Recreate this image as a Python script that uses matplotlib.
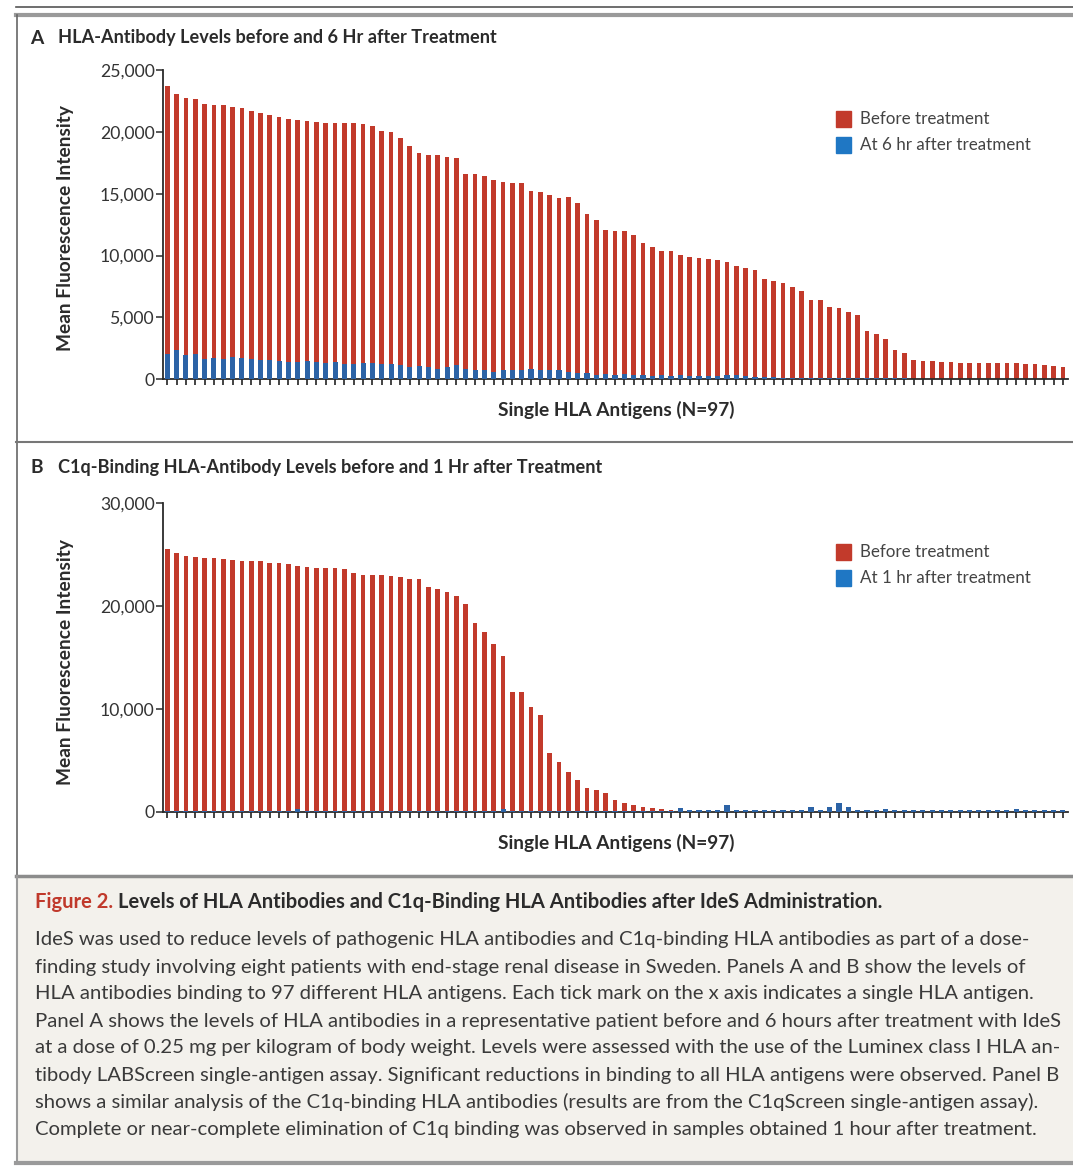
import numpy as np
import matplotlib
matplotlib.use("Agg")
import matplotlib.pyplot as plt
from matplotlib.patches import Rectangle
from matplotlib.lines import Line2D
from matplotlib.ticker import FuncFormatter

plt.rcParams["font.family"] = ["Lato", "DejaVu Sans"]

RED = "#C23A2B"
BLUE = "#2C63A6"
DARK = "#2b2b2b"

# ── data: panel A (MFI, 97 antigens, sorted by pre-treatment level) ──
a_before = [23700, 23060, 22760, 22680, 22270, 22190, 22190, 22030, 21890, 21680,
            21490, 21350, 21170, 21000, 20980, 20870, 20810, 20680, 20680, 20680,
            20680, 20620, 20490, 20030, 19980, 19540, 18840, 18300, 18160, 18110,
            17950, 17890, 16600, 16570, 16430, 16080, 15920, 15890, 15890, 15240,
            15130, 14900, 14690, 14700, 14280, 13390, 12870, 12060, 11970, 11950,
            11630, 11020, 10710, 10350, 10350, 10040, 9850, 9830, 9740, 9630,
            9470, 9120, 9000, 8850, 8110, 7970, 7790, 7430, 7110, 6430,
            6430, 5870, 5760, 5410, 5220, 3870, 3650, 3240, 2350, 2160,
            1540, 1490, 1490, 1430, 1410, 1350, 1350, 1350, 1350, 1350,
            1300, 1300, 1220, 1220, 1140, 1080, 1000]
a_after = [2080, 2350, 1940, 2020, 1620, 1750, 1620, 1810, 1730, 1620,
           1540, 1540, 1460, 1400, 1400, 1460, 1400, 1320, 1400, 1220,
           1270, 1350, 1350, 1270, 1270, 1190, 1000, 1080, 1000, 860,
           1000, 1130, 810, 780, 730, 590, 730, 730, 780, 860,
           730, 730, 730, 590, 540, 540, 320, 460, 380, 400,
           350, 380, 300, 350, 300, 350, 280, 300, 250, 300,
           350, 350, 300, 200, 150, 150, 100, 100, 80, 80,
           80, 80, 80, 80, 80, 80, 80, 80, 80, 80,
           60, 60, 60, 60, 60, 60, 60, 60, 60, 60,
           60, 60, 60, 60, 60, 60, 60]

# ── data: panel B (C1q-binding MFI) ──
b_before = [25470, 25080, 24850, 24690, 24660, 24590, 24560, 24400, 24370, 24370,
            24300, 24170, 24110, 24040, 23850, 23720, 23690, 23660, 23620, 23590,
            23200, 22980, 22980, 22940, 22910, 22750, 22590, 22560, 21780, 21580,
            21360, 20940, 20130, 18280, 17470, 16280, 15140, 11650, 11620, 10190,
            9380, 5730, 4850, 3880, 3070, 2330, 2100, 1780, 1170, 810,
            650, 490, 390, 290, 160, 120, 120, 120, 120, 120,
            120, 120, 120, 120, 120, 120, 120, 120, 120, 120,
            120, 120, 120, 120, 120, 120, 120, 120, 120, 120,
            120, 120, 120, 120, 120, 120, 120, 120, 120, 120,
            120, 120, 120, 120, 120, 120, 120]
b_after = [100, 100, 100, 100, 100, 100, 100, 100, 100, 100,
           100, 100, 100, 100, 300, 100, 100, 100, 100, 100,
           100, 100, 100, 100, 100, 100, 100, 100, 100, 100,
           100, 100, 100, 100, 100, 100, 300, 100, 100, 100,
           100, 100, 100, 100, 100, 100, 100, 100, 100, 100,
           100, 100, 100, 100, 100, 320, 150, 150, 150, 150,
           650, 150, 150, 150, 150, 150, 150, 150, 150, 490,
           150, 490, 810, 490, 150, 150, 150, 250, 150, 150,
           150, 150, 150, 150, 150, 150, 150, 150, 150, 150,
           150, 250, 150, 150, 150, 150, 150]

caption_title = "Levels of HLA Antibodies and C1q-Binding HLA Antibodies after IdeS Administration."
caption = [
    "IdeS was used to reduce levels of pathogenic HLA antibodies and C1q-binding HLA antibodies as part of a dose-",
    "finding study involving eight patients with end-stage renal disease in Sweden. Panels A and B show the levels of",
    "HLA antibodies binding to 97 different HLA antigens. Each tick mark on the x axis indicates a single HLA antigen.",
    "Panel A shows the levels of HLA antibodies in a representative patient before and 6 hours after treatment with IdeS",
    "at a dose of 0.25 mg per kilogram of body weight. Levels were assessed with the use of the Luminex class I HLA an-",
    "tibody LABScreen single-antigen assay. Significant reductions in binding to all HLA antigens were observed. Panel B",
    "shows a similar analysis of the C1q-binding HLA antibodies (results are from the C1qScreen single-antigen assay).",
    "Complete or near-complete elimination of C1q binding was observed in samples obtained 1 hour after treatment.",
]

W, H = 1073, 1168
fig = plt.figure(figsize=(W / 100, H / 100), dpi=100)
renderer = fig.canvas.get_renderer()


def fx(px):
    return px / W


def fy(py):
    return 1 - py / H


def fit(txt, width_px, weight="normal"):
    # font size that makes txt about width_px wide
    t = fig.text(0, 0, txt, fontsize=10, fontweight=weight)
    w = t.get_window_extent(renderer).width
    t.remove()
    return 10 * width_px / w


def panel(top, bottom, before, after, ymax, yticks):
    ax = fig.add_axes([fx(163), fy(bottom), fx(1068) - fx(163), fy(top) - fy(bottom)])
    x = np.arange(len(before))
    ax.bar(x, before, width=0.5, color=RED, zorder=2)
    ax.bar(x, after, width=0.55, color=BLUE, zorder=3)
    ax.set_xlim(-0.45, len(before) - 0.45)
    ax.set_ylim(0, ymax)
    ax.set_xticks(x)
    ax.set_xticklabels([])
    ax.set_yticks(yticks)
    ax.yaxis.set_major_formatter(FuncFormatter(lambda v, p: f"{int(v):,}"))
    ax.tick_params(axis="x", direction="out", length=4.5, width=1.2, color="#222222")
    ax.tick_params(axis="y", direction="out", length=5, width=1.1, color=DARK,
                   labelsize=tick_fs, labelcolor="#333333", pad=1)
    for s in ("top", "right"):
        ax.spines[s].set_visible(False)
    for s in ("left", "bottom"):
        ax.spines[s].set_color(DARK)
        ax.spines[s].set_linewidth(1.3)
    return ax


tick_fs = fit("25,000", 55)
panel(70, 379.3, a_before, a_after, 25000, [0, 5000, 10000, 15000, 20000, 25000])
panel(502.7, 811.7, b_before, b_after, 30000, [0, 10000, 20000, 30000])

# panel titles
title_fs = fit("HLA-Antibody Levels before and 6 Hr after Treatment", 440, "bold")
fig.text(fx(30), fy(38), "A", fontsize=title_fs * 1.05, fontweight="bold", color=DARK, va="center")
fig.text(fx(58), fy(38), "HLA-Antibody Levels before and 6 Hr after Treatment",
         fontsize=title_fs, fontweight="bold", color=DARK, va="center")
fig.text(fx(30), fy(468), "B", fontsize=title_fs * 1.05, fontweight="bold", color=DARK, va="center")
fig.text(fx(58), fy(468), "C1q-Binding HLA-Antibody Levels before and 1 Hr after Treatment",
         fontsize=title_fs, fontweight="bold", color=DARK, va="center")

# axis labels
lab_fs = fit("Single HLA Antigens (N=97)", 238, "bold")
for yc in (228, 662):
    fig.text(fx(66), fy(yc), "Mean Fluorescence Intensity", rotation=90,
             fontsize=lab_fs, fontweight="bold", color=DARK, ha="center", va="center")
for yc in (410, 843):
    fig.text(fx(616), fy(yc), "Single HLA Antigens (N=97)",
             fontsize=lab_fs, fontweight="bold", color=DARK, ha="center", va="center")

# legends
leg_fs = fit("Before treatment", 130)
for y0, lab in ((119, "At 6 hr after treatment"), (552, "At 1 hr after treatment")):
    for dy, col, txt in ((0, RED, "Before treatment"), (26, "#1F77C4", lab)):
        fig.patches.append(Rectangle((fx(836), fy(y0 + dy + 8)), fx(15), 16 / H,
                                     transform=fig.transFigure, color=col))
        fig.text(fx(860), fy(y0 + dy), txt, fontsize=leg_fs, color="#444444", va="center")


# frame lines
def hline(y, x0, x1, lw, c):
    fig.lines.append(Line2D([fx(x0), fx(x1)], [fy(y), fy(y)], transform=fig.transFigure,
                            lw=lw, color=c))


def vline(x, y0, y1, lw, c):
    fig.lines.append(Line2D([fx(x), fx(x)], [fy(y0), fy(y1)], transform=fig.transFigure,
                            lw=lw, color=c))


hline(7, 16, W, 1.2, "#555555")
hline(15, 16, W, 3.0, "#9a9a9a")
vline(16.5, 15, 876, 1.2, "#666666")
hline(441.5, 16, W, 1.5, "#777777")

# caption box
fig.patches.append(Rectangle((fx(17), fy(1163)), fx(W) - fx(17), (1163 - 876) / H,
                             transform=fig.transFigure, facecolor="#f3f1ec",
                             edgecolor="none", zorder=0))
hline(876, 16, W, 2.5, "#8c8c8c")
hline(1163, 16, W, 3.0, "#9a9a9a")
vline(17, 876, 1163, 1.5, "#9a9a9a")

cap_title_fs = fit("Figure 2. " + caption_title, 851, "bold")
t1 = fig.text(fx(35), fy(902), "Figure 2.", fontsize=cap_title_fs, color="#C0392B",
              fontweight="bold", va="center")
bb = t1.get_window_extent(renderer)
fig.text(bb.x1 / W + fx(5), fy(902), caption_title,
         fontsize=cap_title_fs, color=DARK, fontweight="bold", va="center")

# caption lines: sized so the longest one still fits inside the figure
cap_fs = min(fit(line, 1030) for line in caption)
for i, line in enumerate(caption):
    fig.text(fx(35), fy(940 + 27 * i), line, fontsize=cap_fs, color="#3a3a3a", va="center")

fig.savefig("out.png", dpi=100)
